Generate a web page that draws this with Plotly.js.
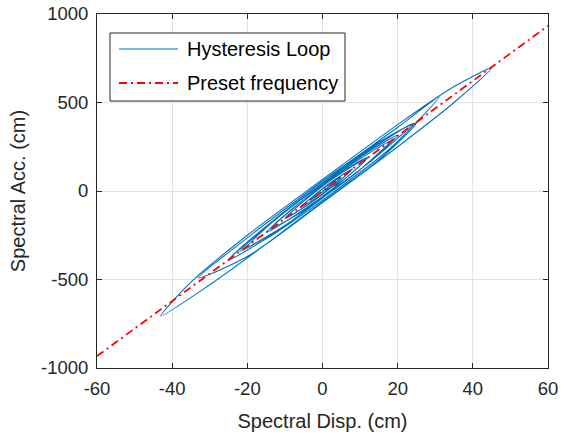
<!DOCTYPE html>
<html>
<head>
<meta charset="utf-8">
<script src="https://cdn.plot.ly/plotly-3.0.1.min.js"></script>
<style>html,body{margin:0;padding:0;background:#fff;}#chart{width:561px;height:437px;}</style>
</head>
<body>
<div id="chart"></div>
<script>
// Hysteresis loop: spectral displacement (cm) vs spectral acceleration
const loopDisp = [0, 4, 8, 12,
  6, -1, -8, -14,
  -6, 3, 12, 20,
  11, -1, -13, -22,
  -11, 1, 13, 24,
  13, 0, -13, -25,
  -12, 3, 18, 31,
  20, 0, -20, -33,
  -20, 0, 20, 35, 45,
  35, 20, 0, -20, -35, -43,
  -30, -15, 0, 15, 25,
  15, 0, -12, -20,
  -10, 0, 10, 18,
  8, -3, -15,
  -6, 4, 12,
  4, -4, -10,
  -3, 3, 8,
  2, -6,
  0, 5,
  0, -3,
  0, 2];
const loopAcc = [0, 40, 105, 190,
  120, 15, -100, -215,
  -125, 10, 155, 315,
  205, 25, -170, -340,
  -210, -20, 170, 380,
  240, 45, -165, -390,
  -230, -5, 240, 531,
  360, 55, -265, -490,
  -370, -65, 250, 500, 695,
  590, 375, 65, -250, -515, -706,
  -530, -300, -60, 175, 385,
  275, 45, -150, -315,
  -195, -40, 120, 280,
  155, -15, -235,
  -120, 35, 187,
  88, -40, -156,
  -65, 30, 125,
  45, -94,
  -15, 78,
  12, -47,
  -5, 31];
// Preset frequency line
const presetDisp = [-60, 60];
const presetAcc = [-933, 933];

const xTicks = [-60, -40, -20, 0, 20, 40, 60];
const yTicks = [-1000, -500, 0, 500, 1000];
const legendNames = ['Hysteresis Loop', 'Preset frequency'];

const FONT = 'Liberation Sans, Arial, sans-serif';
const blue = '#0072BD', red = '#FF0000', dark = '#262626';
const redDash = '8px,4px,2px,4px';

const traces = [
  {x: loopDisp, y: loopAcc, type: 'scatter', mode: 'lines', name: legendNames[0],
   line: {color: blue, width: 1.1, shape: 'spline', smoothing: 0.8}},
  {x: presetDisp, y: presetAcc, type: 'scatter', mode: 'lines', name: legendNames[1],
   line: {color: red, width: 1.8, dash: redDash}}
];

const axisCommon = {
  showline: true, mirror: 'ticks', linecolor: dark, linewidth: 1,
  ticks: 'inside', ticklen: 5, tickcolor: dark,
  showgrid: true, gridcolor: '#e3e3e3', gridwidth: 1,
  zeroline: false, automargin: false,
  tickfont: {family: FONT, size: 18.5, color: dark}
};

// manual MATLAB-style legend (paper coordinates)
const lg = {x0: 0.0288, x1: 0.5499, y0: 0.7542, y1: 0.9463,
  sx0: 0.0488, sx1: 0.1796, tx: 0.1951, rows: [0.9011, 0.8051]};
const shapes = [
  {type: 'rect', xref: 'paper', yref: 'paper', x0: lg.x0, x1: lg.x1, y0: lg.y0, y1: lg.y1,
   line: {color: dark, width: 1}, fillcolor: '#fff', layer: 'above'},
  {type: 'line', xref: 'paper', yref: 'paper', x0: lg.sx0, x1: lg.sx1, y0: lg.rows[0], y1: lg.rows[0],
   line: {color: blue, width: 1.1}, layer: 'above'},
  {type: 'line', xref: 'paper', yref: 'paper', x0: lg.sx0, x1: lg.sx1, y0: lg.rows[1], y1: lg.rows[1],
   line: {color: red, width: 1.8, dash: redDash}, layer: 'above'}
];
const annotations = legendNames.map((n, i) => ({
  xref: 'paper', yref: 'paper', x: lg.tx, y: lg.rows[i], xanchor: 'left', yanchor: 'middle',
  text: n, showarrow: false, font: {family: FONT, size: 20, color: '#000'}
}));

const layout = {
  width: 561, height: 437,
  margin: {l: 97, r: 13, t: 14, b: 69},
  paper_bgcolor: '#fff', plot_bgcolor: '#fff',
  font: {family: FONT, size: 18, color: dark},
  showlegend: false,
  shapes: shapes,
  annotations: annotations,
  xaxis: Object.assign({}, axisCommon, {range: [-60, 60], tickvals: xTicks,
    ticktext: xTicks.map(v => String(v)), ticklabelstandoff: 4,
    title: {text: 'Spectral Disp. (cm)', font: {family: FONT, size: 20, color: dark}, standoff: 15}}),
  yaxis: Object.assign({}, axisCommon, {range: [-1000, 1000], tickvals: yTicks,
    ticktext: yTicks.map(v => String(v)), ticklabelstandoff: 4,
    title: {text: 'Spectral Acc. (cm)', font: {family: FONT, size: 20, color: dark}, standoff: 9}})
};

Plotly.newPlot('chart', traces, layout, {displayModeBar: false, staticPlot: true});
</script>
</body>
</html>
